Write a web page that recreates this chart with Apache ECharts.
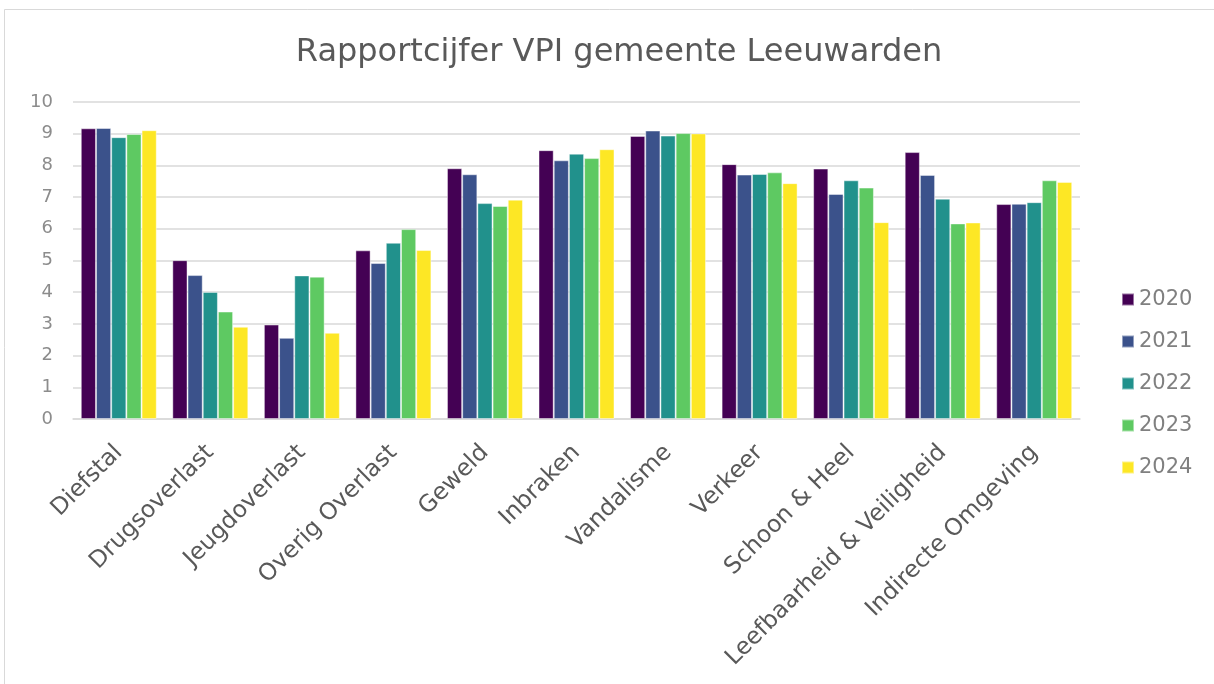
<!DOCTYPE html>
<html>
<head>
<meta charset="utf-8">
<script src="https://cdn.jsdelivr.net/npm/echarts@6/dist/echarts.min.js"></script>
<style>
  html, body { margin: 0; padding: 0; background: #fff; }
  #main { width: 1214px; height: 684px; }
</style>
</head>
<body>
<div id="main"></div>
<script>
// categorieen en rapportcijfers per jaar
var categories = ['Diefstal', 'Drugsoverlast', 'Jeugdoverlast', 'Overig Overlast', 'Geweld',
  'Inbraken', 'Vandalisme', 'Verkeer', 'Schoon & Heel', 'Leefbaarheid & Veiligheid', 'Indirecte Omgeving'];
var years = ['2020', '2021', '2022', '2023', '2024'];
var y2020 = [9.17, 5.01, 2.98, 5.32, 7.91, 8.48, 8.93, 8.04, 7.90, 8.42, 6.78];
var y2021 = [9.18, 4.54, 2.56, 4.92, 7.72, 8.16, 9.10, 7.71, 7.10, 7.70, 6.79];
var y2022 = [8.89, 4.01, 4.53, 5.56, 6.81, 8.37, 8.94, 7.73, 7.53, 6.95, 6.84];
var y2023 = [8.99, 3.39, 4.49, 5.99, 6.72, 8.23, 9.02, 7.78, 7.30, 6.17, 7.53];
var y2024 = [9.11, 2.91, 2.72, 5.33, 6.92, 8.51, 9.01, 7.44, 6.21, 6.20, 7.48];
var yTicks = [0, 1, 2, 3, 4, 5, 6, 7, 8, 9, 10];

var colors = ['#440154', '#3b528b', '#21918c', '#5ec962', '#fde725'];
var allData = [y2020, y2021, y2022, y2023, y2024];

var chart = echarts.init(document.getElementById('main'));

var series = [];
for (var i = 0; i < years.length; i++) {
  series.push({
    name: years[i],
    type: 'bar',
    data: allData[i],
    barGap: '0%',
    barCategoryGap: '17%',
    itemStyle: {
      color: colors[i],
      borderColor: 'rgba(255,255,255,0.45)',
      borderWidth: 1
    }
  });
}

var option = {
  backgroundColor: '#fff',
  textStyle: { fontFamily: 'DejaVu Sans' },
  graphic: [{
    type: 'rect',
    shape: { x: 4.5, y: 9.5, width: 1230, height: 700 },
    style: { fill: 'none', stroke: '#d9d9d9', lineWidth: 1 },
    silent: true
  }],
  title: {
    text: 'Rapportcijfer VPI gemeente Leeuwarden',
    left: 614,
    top: 32,
    textAlign: 'center',
    textStyle: { fontSize: 32, fontWeight: 'normal', color: '#595959', fontFamily: 'DejaVu Sans' }
  },
  legend: {
    orient: 'vertical',
    left: 1121,
    top: 289,
    padding: 0,
    itemWidth: 12,
    itemHeight: 12,
    itemGap: 21,
    icon: 'rect',
    data: years,
    textStyle: { fontSize: 21, color: '#808080', fontFamily: 'DejaVu Sans' }
  },
  grid: {
    left: 73,
    right: 134,
    top: 102,
    bottom: 265,
    containLabel: false
  },
  xAxis: {
    type: 'category',
    data: categories,
    axisTick: { show: false },
    axisLine: { lineStyle: { color: '#d9d9d9', width: 1.5 } },
    axisLabel: {
      interval: 0,
      rotate: 45,
      fontSize: 23.5,
      color: '#595959',
      margin: 30
    }
  },
  yAxis: {
    type: 'value',
    min: yTicks[0],
    max: yTicks[yTicks.length - 1],
    interval: 1,
    axisLine: { show: false },
    axisTick: { show: false },
    splitLine: { lineStyle: { color: '#d9d9d9', width: 1.5 } },
    axisLabel: { fontSize: 18, color: '#8c8c8c', margin: 20 }
  },
  series: series
};

chart.setOption(option);
</script>
</body>
</html>
